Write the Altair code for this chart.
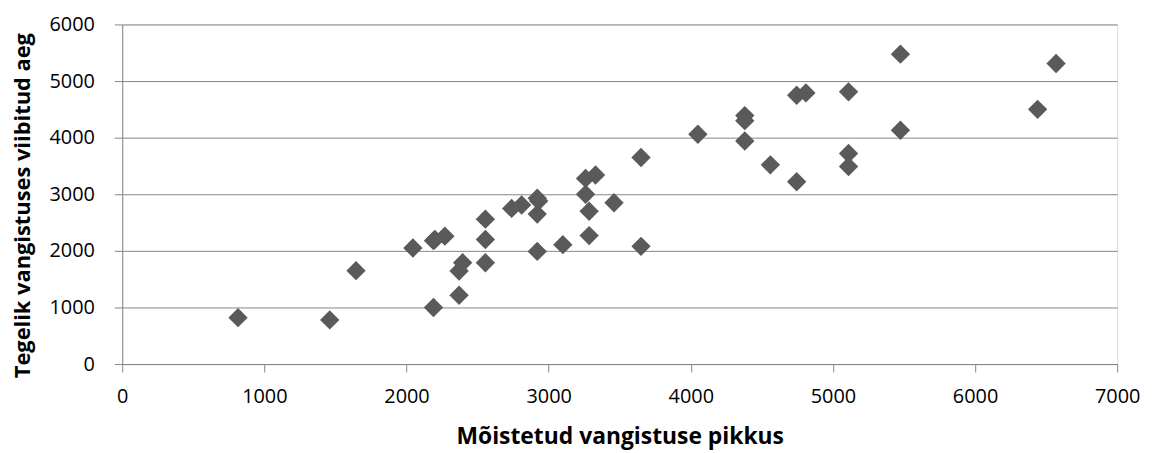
import altair as alt
import pandas as pd

# Data
moistetud = [815, 1460, 1645, 2045, 2190, 2200, 2270, 2190, 2370, 2370, 2395,
             2555, 2555, 2555, 2740, 2810, 2920, 2930, 2920, 2920, 3100,
             3260, 3330, 3260, 3285, 3285, 3460, 3650, 3650, 4050,
             4380, 4380, 4380, 4560, 4745, 4745, 4810, 5110, 5110, 5110,
             5475, 5475, 6440, 6570]
tegelik = [820, 780, 1650, 2050, 2180, 2200, 2260, 1000, 1215, 1645, 1790,
           2560, 2200, 1790, 2750, 2810, 2930, 2880, 2650, 1990, 2110,
           3280, 3340, 3000, 2700, 2270, 2850, 3650, 2080, 4060,
           4390, 4300, 3940, 3520, 3220, 4750, 4790, 4810, 3720, 3490,
           5475, 4130, 4500, 5310]

x_ticks = [0, 1000, 2000, 3000, 4000, 5000, 6000, 7000]
y_ticks = [0, 1000, 2000, 3000, 4000, 5000, 6000]

df = pd.DataFrame({"x": moistetud, "y": tegelik})

FONT = "Open Sans"
GRAY = "#868686"
W, H = 1002, 342

chart = alt.Chart(df).mark_point(
    shape="diamond", filled=True, size=380, color="#5a5a5a", opacity=1
).encode(
    x=alt.X("x:Q",
            scale=alt.Scale(domain=[0, 7000], nice=False, zero=True),
            axis=alt.Axis(values=x_ticks, format="d", grid=False,
                          title="Mõistetud vangistuse pikkus",
                          titleFont=FONT, titleFontSize=23, titleFontWeight="bold",
                          titleColor="#000000",
                          titleX=W / 2, titleY=73, titleBaseline="middle",
                          titleAlign="center",
                          labelFont=FONT, labelFontSize=20, labelColor="#000000",
                          labelBaseline="middle", labelPadding=25,
                          tickSize=8, tickColor=GRAY, domainColor=GRAY,
                          labelFlush=False, labelOverlap=False)),
    y=alt.Y("y:Q",
            scale=alt.Scale(domain=[0, 6000], nice=False, zero=True),
            axis=alt.Axis(values=y_ticks, format="d", grid=True, gridColor=GRAY,
                          gridWidth=1,
                          title="Tegelik vangistuses viibitud aeg",
                          titleFont=FONT, titleFontSize=22, titleFontWeight="bold",
                          titleColor="#000000",
                          titleX=-100, titleY=H / 2 + 11, titleAngle=-90,
                          titleBaseline="middle", titleAlign="center",
                          labelFont=FONT, labelFontSize=20, labelColor="#000000",
                          labelPadding=20, tickSize=8, tickColor=GRAY,
                          domainColor=GRAY, labelFlush=False, labelOverlap=False)),
).properties(
    width=W, height=H,
    autosize=alt.AutoSizeParams(type="none"),
    padding={"left": 115, "top": 15, "right": 28, "bottom": 88},
).configure_view(stroke=None).configure(background="white")

chart.save("out.html", embed_options={"renderer": "svg", "actions": False})
